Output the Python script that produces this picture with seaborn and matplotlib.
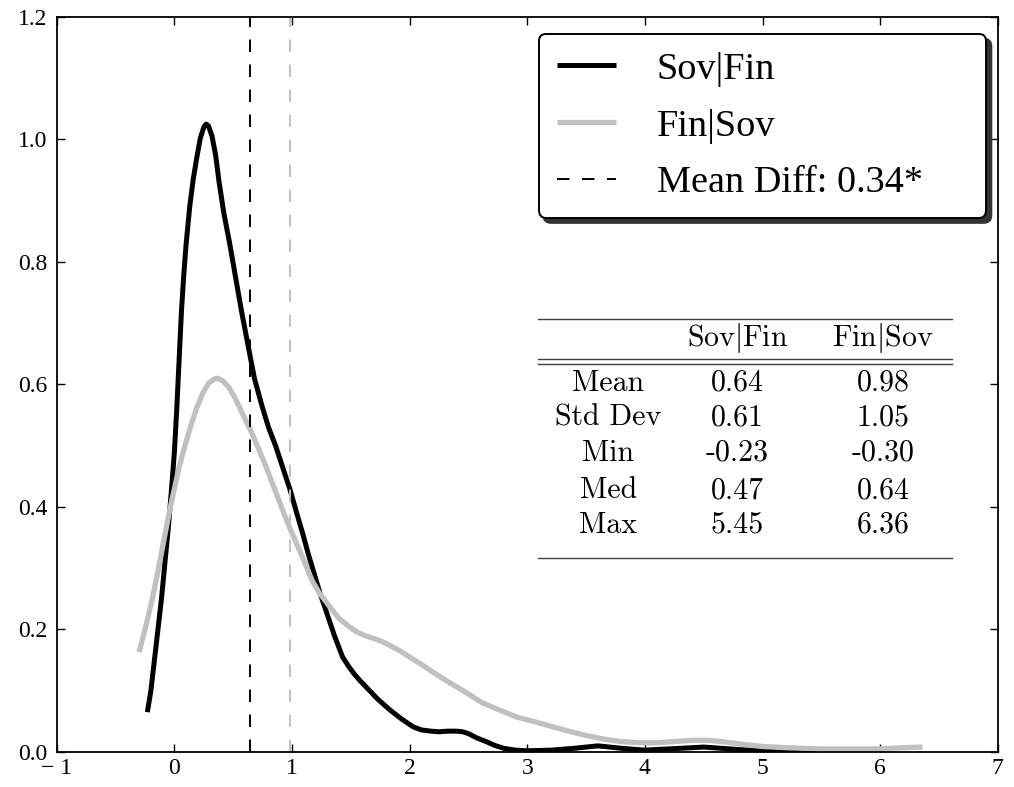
import matplotlib
matplotlib.use("Agg")
import matplotlib.pyplot as plt
import seaborn as sns
import pandas as pd

# ---------------- data ----------------
sov_fin_x = [-0.23, -0.20, -0.17, -0.14, -0.11, -0.08, -0.05, -0.02, 0.00, 0.02, 0.04, 0.06,
             0.08, 0.10, 0.13, 0.16, 0.19, 0.22, 0.25, 0.27, 0.29, 0.32, 0.35, 0.38, 0.42,
             0.47, 0.52, 0.57, 0.62, 0.68, 0.74, 0.80, 0.86, 0.92, 0.98, 1.04, 1.09, 1.14,
             1.19, 1.24, 1.29, 1.36, 1.43, 1.48, 1.53, 1.58, 1.63, 1.73, 1.83, 1.93, 2.03,
             2.10, 2.18, 2.25, 2.32, 2.40, 2.45, 2.50, 2.57, 2.65, 2.72, 2.80, 2.90, 3.0,
             3.2, 3.4, 3.6, 3.8, 4.0, 4.2, 4.5, 4.8, 5.1, 5.45]
sov_fin_y = [0.065, 0.10, 0.15, 0.20, 0.25, 0.31, 0.37, 0.44, 0.49, 0.56, 0.64, 0.72,
             0.78, 0.83, 0.89, 0.935, 0.97, 1.002, 1.02, 1.025, 1.022, 1.005, 0.975, 0.93, 0.88,
             0.83, 0.775, 0.72, 0.67, 0.61, 0.568, 0.53, 0.50, 0.465, 0.43, 0.39, 0.357, 0.322,
             0.29, 0.258, 0.23, 0.19, 0.155, 0.14, 0.127, 0.116, 0.106, 0.086, 0.069, 0.054, 0.041,
             0.036, 0.034, 0.033, 0.034, 0.034, 0.033, 0.030, 0.023, 0.017, 0.011, 0.006, 0.003, 0.002,
             0.003, 0.006, 0.010, 0.006, 0.003, 0.005, 0.008, 0.004, 0.001, 0.0]

fin_sov_x = [-0.30, -0.25, -0.19, -0.14, -0.09, -0.04, 0.00, 0.04, 0.09, 0.14, 0.19, 0.24,
             0.29, 0.34, 0.37, 0.41, 0.46, 0.51, 0.56, 0.61, 0.66, 0.72, 0.78, 0.84, 0.89,
             0.95, 1.00, 1.05, 1.10, 1.17, 1.23, 1.29, 1.34, 1.40, 1.45, 1.49, 1.55, 1.62,
             1.70, 1.77, 1.84, 1.90, 2.00, 2.10, 2.20, 2.34, 2.48, 2.62, 2.77, 2.91, 3.05,
             3.20, 3.35, 3.50, 3.65, 3.80, 3.95, 4.10, 4.25, 4.40, 4.55, 4.70, 4.85, 5.00,
             5.20, 5.50, 6.00, 6.20, 6.36]
fin_sov_y = [0.163, 0.20, 0.248, 0.295, 0.345, 0.395, 0.43, 0.465, 0.50, 0.533, 0.562, 0.585,
             0.602, 0.609, 0.61, 0.606, 0.596, 0.58, 0.56, 0.54, 0.52, 0.493, 0.465, 0.435, 0.41,
             0.38, 0.357, 0.335, 0.313, 0.28, 0.26, 0.245, 0.232, 0.218, 0.21, 0.204, 0.196, 0.19,
             0.185, 0.18, 0.173, 0.167, 0.155, 0.143, 0.13, 0.113, 0.097, 0.080, 0.068, 0.057, 0.050,
             0.042, 0.034, 0.027, 0.021, 0.017, 0.015, 0.015, 0.017, 0.019, 0.019, 0.016, 0.012, 0.009,
             0.007, 0.005, 0.005, 0.007, 0.008]

series_labels = ["Sov|Fin", "Fin|Sov"]
mean_diff_label = "Mean Diff: 0.34*"

stat_names = ["Mean", "Std Dev", "Min", "Med", "Max"]
sov_fin_stats = ["0.64", "0.61", "-0.23", "0.47", "5.45"]
fin_sov_stats = ["0.98", "1.05", "-0.30", "0.64", "6.36"]
sov_fin_mean = 0.64
fin_sov_mean = 0.98

x_ticks = [-1, 0, 1, 2, 3, 4, 5, 6, 7]
y_ticks = [0.0, 0.2, 0.4, 0.6, 0.8, 1.0, 1.2]

# ---------------- style ----------------
serif = ["Liberation Serif", "DejaVu Serif"]
plt.rcParams["font.family"] = serif
plt.rcParams["mathtext.fontset"] = "cm"
plt.rcParams["lines.scale_dashes"] = False

fig = plt.figure(figsize=(10.14, 7.87), dpi=100)
ax = fig.add_axes([0.056, 0.0445, 0.928, 0.934])

black = "#000000"
grey = "#c0c0c0"

df1 = pd.DataFrame({"x": sov_fin_x, "y": sov_fin_y})
df2 = pd.DataFrame({"x": fin_sov_x, "y": fin_sov_y})
sns.lineplot(data=df1, x="x", y="y", ax=ax, color=black, lw=3.6, sort=False,
             label=series_labels[0], solid_capstyle="butt")
sns.lineplot(data=df2, x="x", y="y", ax=ax, color=grey, lw=3.8, sort=False,
             label=series_labels[1], solid_capstyle="butt")

ax.axvline(sov_fin_mean, color=black, lw=1.4, dashes=(9, 9), label=mean_diff_label)
ax.axvline(fin_sov_mean, color=grey, lw=1.4, dashes=(9, 9))

ax.set_xlim(-1, 7)
ax.set_ylim(0, 1.2)
ax.set_xticks(x_ticks)
ax.set_yticks(y_ticks)
tick_font = dict(family=serif, size=17)
ax.set_xticklabels(["\u2212 1" if t < 0 else str(t) for t in x_ticks], fontdict=tick_font)
ax.set_yticklabels([f"{t:.1f}" for t in y_ticks], fontdict=tick_font)
ax.set_xlabel("")
ax.set_ylabel("")
ax.tick_params(direction="in", top=True, right=True, length=5.5, width=1)
ax.tick_params(axis="x", pad=4)
ax.tick_params(axis="y", pad=7)
for s in ax.spines.values():
    s.set_linewidth(1.3)

leg = ax.legend(loc="upper right", bbox_to_anchor=(0.512, 0.6, 0.476, 0.377),
                mode="expand", borderaxespad=0,
                prop=dict(family=serif, size=27.5), handlelength=1.57, handletextpad=1.05,
                labelspacing=0.57, borderpad=0.47, fancybox=True,
                shadow=dict(ox=3.5, oy=-3.5, color="0.2", alpha=1))
leg.get_frame().set_edgecolor("black")
leg.get_frame().set_linewidth(1.4)
leg.get_frame().set_alpha(1)

# ---------------- stats table ----------------
tx0, tx1 = 0.511, 0.951
col_x = [0.586, 0.723, 0.878]
tfont = dict(family=["cmr10", "DejaVu Serif"], fontsize=21.5, ha="center", va="center",
             transform=ax.transAxes)
line_kw = dict(transform=ax.transAxes, color="0.25", lw=1.0, clip_on=False)
ax.plot([tx0, tx1], [0.589, 0.589], **line_kw)
ax.plot([tx0, tx1], [0.535, 0.535], **line_kw)
ax.plot([tx0, tx1], [0.528, 0.528], **line_kw)
ax.plot([tx0, tx1], [0.264, 0.264], **line_kw)
ax.text(col_x[1], 0.563, series_labels[0].replace("|", "$|$"), **tfont)
ax.text(col_x[2], 0.563, series_labels[1].replace("|", "$|$"), **tfont)
row_y = [0.502, 0.454, 0.407, 0.356, 0.309]
for name, a, b, yy in zip(stat_names, sov_fin_stats, fin_sov_stats, row_y):
    ax.text(col_x[0], yy, name, **tfont)
    ax.text(col_x[1], yy, a, **tfont)
    ax.text(col_x[2], yy, b, **tfont)

fig.savefig("out.png", dpi=100)
